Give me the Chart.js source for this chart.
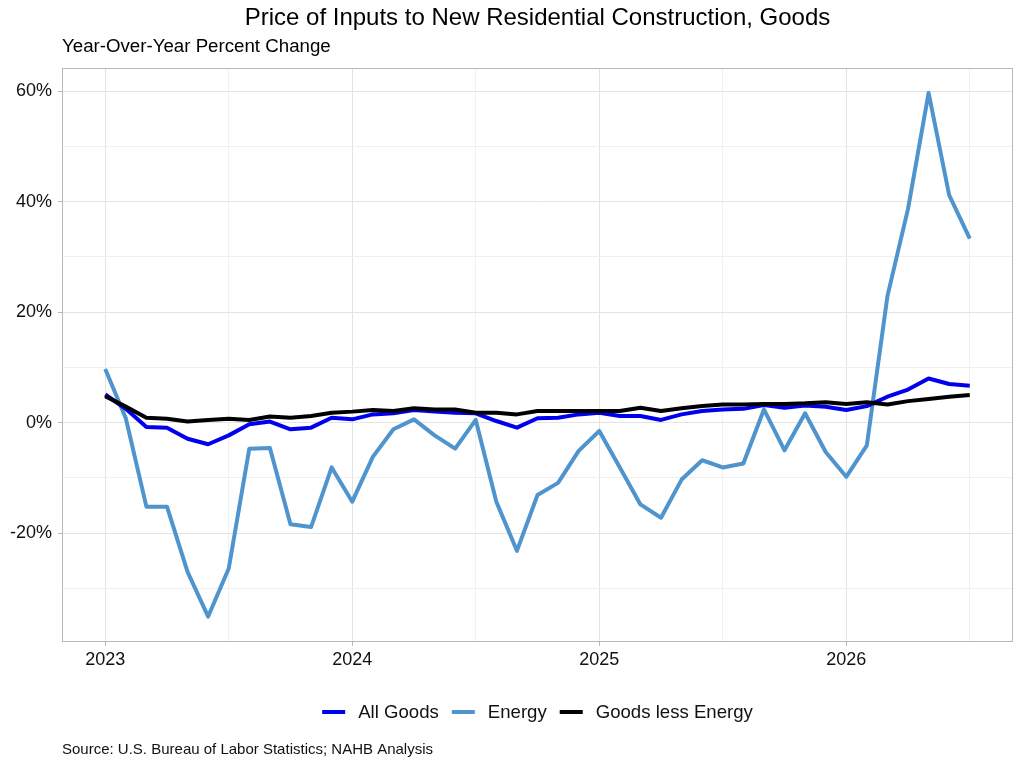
<!DOCTYPE html>
<html>
<head>
<meta charset="utf-8">
<script src="https://cdn.jsdelivr.net/npm/chart.js@4/dist/chart.umd.min.js"></script>
<style>
  html, body { margin: 0; padding: 0; background: #fff; }
  #wrap { width: 1024px; height: 768px; position: relative; }
</style>
</head>
<body>
<div id="wrap"><canvas id="chart"></canvas></div>
<script>
// monthly observations, Jan 2023 .. Jul 2026
const months = [
  "2023-01","2023-02","2023-03","2023-04","2023-05","2023-06","2023-07","2023-08","2023-09","2023-10","2023-11","2023-12",
  "2024-01","2024-02","2024-03","2024-04","2024-05","2024-06","2024-07","2024-08","2024-09","2024-10","2024-11","2024-12",
  "2025-01","2025-02","2025-03","2025-04","2025-05","2025-06","2025-07","2025-08","2025-09","2025-10","2025-11","2025-12",
  "2026-01","2026-02","2026-03","2026-04","2026-05","2026-06","2026-07"
];
const allGoods = [5.1, 2.5, -0.8, -0.9, -2.9, -3.9, -2.3, -0.3, 0.2, -1.2, -0.9, 0.9,
  0.6, 1.5, 1.7, 2.3, 2.0, 1.8, 1.7, 0.3, -0.9, 0.8, 0.9, 1.5,
  1.8, 1.2, 1.2, 0.5, 1.5, 2.1, 2.4, 2.5, 3.2, 2.7, 3.1, 2.9,
  2.3, 3.0, 4.7, 6.0, 8.0, 7.0, 6.7];
const energy = [9.7, 0.8, -15.2, -15.2, -27.0, -35.1, -26.4, -4.7, -4.6, -18.4, -18.9, -8.1,
  -14.3, -6.2, -1.2, 0.6, -2.3, -4.7, 0.5, -14.3, -23.2, -13.1, -10.9, -5.1,
  -1.5, -8.1, -14.8, -17.2, -10.3, -6.8, -8.1, -7.4, 2.4, -5.0, 1.7, -5.3,
  -9.8, -4.1, 22.9, 38.7, 59.7, 41.2, 33.3];
const goodsLessEnergy = [4.8, 2.9, 0.9, 0.7, 0.2, 0.5, 0.7, 0.5, 1.1, 0.9, 1.2, 1.8,
  2.0, 2.3, 2.1, 2.6, 2.4, 2.4, 1.8, 1.8, 1.5, 2.1, 2.1, 2.1,
  2.1, 2.1, 2.7, 2.1, 2.6, 3.0, 3.3, 3.3, 3.4, 3.4, 3.5, 3.7,
  3.4, 3.7, 3.3, 3.9, 4.3, 4.7, 5.0];
const seriesNames = ["All Goods", "Energy", "Goods less Energy"];
const seriesColors = ["#0000EE", "#4F94CD", "#000000"];
const yearLabels = ["2023", "2024", "2025", "2026"];
const yTickLabels = ["-20%", "0%", "20%", "40%", "60%"];

const titleText = "Price of Inputs to New Residential Construction, Goods";
const subtitleText = "Year-Over-Year Percent Change";
const sourceText = "Source: U.S. Bureau of Labor Statistics; NAHB Analysis";

const FONT = "'Liberation Sans', Arial, sans-serif";

// month index from Jan 2023
const monthIndex = m => (parseInt(m.slice(0, 4)) - 2023) * 12 + parseInt(m.slice(5, 7)) - 1;
const toPoints = vals => months.map((m, i) => ({ x: monthIndex(m), y: vals[i] }));

const canvas = document.getElementById("chart");
canvas.width = 1024;
canvas.height = 768;

//draws title, subtitle, panel border, legend and source note
const decor = {
  id: "decor",
  beforeDatasetsDraw(chart) {
    const { ctx, chartArea: a } = chart;
    ctx.save();
    ctx.strokeStyle = "#b8b8b8";
    ctx.lineWidth = 1;
    ctx.strokeRect(a.left + 0.5, a.top + 0.5, a.right - a.left - 1, a.bottom - a.top - 1);
    ctx.restore();
  },
  afterDraw(chart) {
    const { ctx, chartArea: a } = chart;
    ctx.save();
    ctx.fillStyle = "#000";
    ctx.textBaseline = "middle";
    ctx.font = "24px " + FONT;
    ctx.textAlign = "center";
    ctx.fillText(titleText, (a.left + a.right) / 2, 18);
    ctx.font = "18.7px " + FONT;
    ctx.textAlign = "left";
    ctx.fillText(subtitleText, 62, 47);
    ctx.font = "15px " + FONT;
    ctx.fillStyle = "#111";
    ctx.fillText(sourceText, 62, 750);

    // legend
    ctx.font = "18.6px " + FONT;
    const swatch = 23, gapText = 13, gapItem = 13;
    let total = 0;
    seriesNames.forEach((n, i) => {
      total += swatch + gapText + ctx.measureText(n).width + (i < seriesNames.length - 1 ? gapItem : 0);
    });
    let x = (a.left + a.right) / 2 - total / 2;
    const y = 712;
    seriesNames.forEach((n, i) => {
      ctx.strokeStyle = seriesColors[i];
      ctx.lineWidth = 4;
      ctx.beginPath();
      ctx.moveTo(x, y);
      ctx.lineTo(x + swatch, y);
      ctx.stroke();
      x += swatch + gapText;
      ctx.fillStyle = "#111";
      ctx.fillText(n, x, y + 1);
      x += ctx.measureText(n).width + gapItem;
    });
    ctx.restore();
  }
};

const datasets = [allGoods, energy, goodsLessEnergy].map((vals, i) => ({
  label: seriesNames[i],
  data: toPoints(vals),
  borderColor: seriesColors[i],
  backgroundColor: seriesColors[i],
  borderWidth: 4,
  pointRadius: 0,
  tension: 0,
  borderJoinStyle: "round",
  order: [1, 2, 0][i]
}));

new Chart(canvas, {
  type: "line",
  data: { datasets: datasets },
  plugins: [decor],
  options: {
    responsive: false,
    animation: false,
    events: [],
    layout: { padding: { left: 0, right: 11, top: 68, bottom: 0 } },
    plugins: {
      legend: { display: false },
      title: { display: false },
      tooltip: { enabled: false }
    },
    scales: {
      x: {
        type: "linear",
        min: -2.1,
        max: 44.1,
        afterFit: s => { s.height = 126; },
        afterBuildTicks: s => {
          s.ticks = [0, 6, 12, 18, 24, 30, 36, 42].map(v => ({ value: v }));
        },
        border: { display: false },
        grid: {
          color: c => (c.tick && c.tick.value % 12 === 0) ? "#e3e3e3" : "#f0f0f0",
          lineWidth: 1,
          tickLength: 4,
          tickColor: c => (c.tick && c.tick.value % 12 === 0) ? "#b8b8b8" : "rgba(0,0,0,0)"
        },
        ticks: {
          autoSkip: false,
          maxRotation: 0,
          padding: 3,
          color: "#111",
          font: { family: FONT, size: 18 },
          callback: v => (v % 12 === 0 ? yearLabels[v / 12] : "")
        }
      },
      y: {
        min: -39.7,
        max: 64.2,
        afterFit: s => { s.width = 62; },
        afterBuildTicks: s => {
          s.ticks = [-30, -20, -10, 0, 10, 20, 30, 40, 50, 60].map(v => ({ value: v }));
        },
        border: { display: false },
        grid: {
          color: c => (c.tick && c.tick.value % 20 === 0) ? "#e3e3e3" : "#f0f0f0",
          lineWidth: 1,
          tickLength: 4,
          tickColor: c => (c.tick && c.tick.value % 20 === 0) ? "#b8b8b8" : "rgba(0,0,0,0)"
        },
        ticks: {
          autoSkip: false,
          padding: 6,
          color: "#111",
          font: { family: FONT, size: 18 },
          callback: v => (v % 20 === 0 ? yTickLabels[(v + 20) / 20] : "")
        }
      }
    }
  }
});
</script>
</body>
</html>
